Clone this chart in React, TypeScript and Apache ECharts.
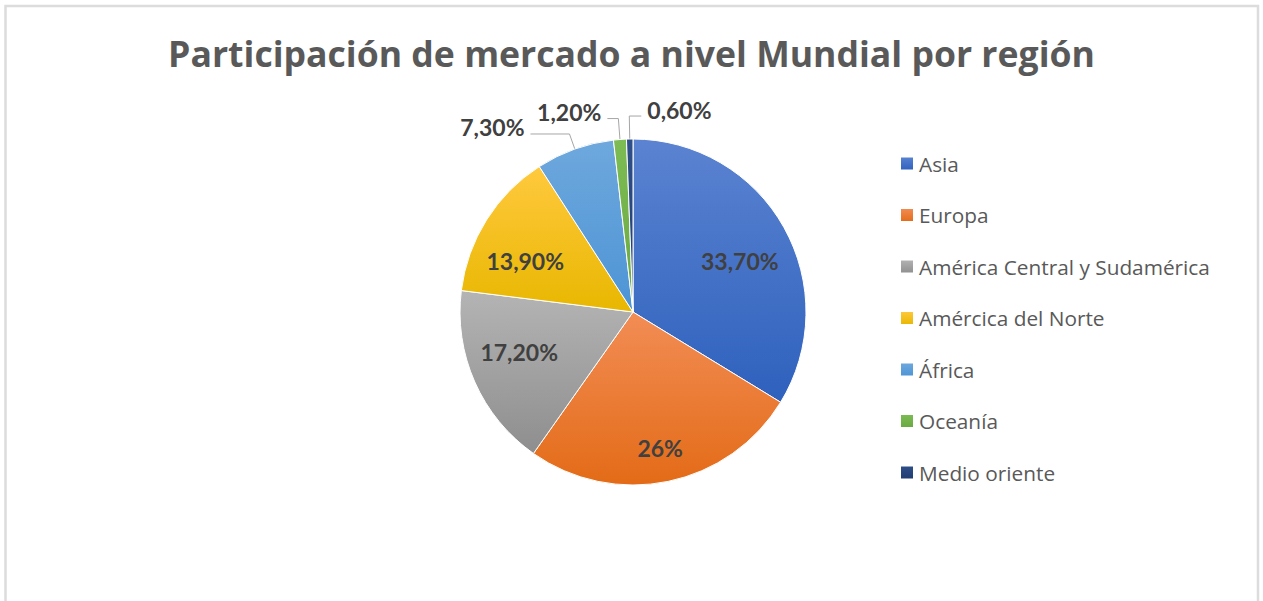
import React, { useEffect, useRef } from "react";
import * as echarts from "echarts";

const titleText = "Participación de mercado a nivel Mundial por región";
const categories = [
  "Asia",
  "Europa",
  "América Central y Sudamérica",
  "Amércica del Norte",
  "África",
  "Oceanía",
  "Medio oriente",
];
const values = [33.7, 26, 17.2, 13.9, 7.3, 1.2, 0.6];
const valueLabels = ["33,70%", "26%", "17,20%", "13,90%", "7,30%", "1,20%", "0,60%"];
const outside = [false, false, false, false, true, true, true];
const colorsTop = ["#5b83d1", "#f28d55", "#b4b4b4", "#ffc93e", "#6ea8dd", "#7dbb55", "#2f4f8a"];
const colorsBottom = ["#2e61bd", "#e36b17", "#8e8e8e", "#e8b700", "#4d94d5", "#6aa842", "#203c70"];
const lineLen = [0, 0, 0, 0, 16, 21, 23];
const lineLen2 = [0, 0, 0, 0, 39, 11, 12];
// small style nudges for inner labels (Excel's best-fit placement)
const nudgeX = [3, 3, -5, -7, 0, 0, 0];
const nudgeY = [7, 19, -8, 12, 0, 0, 0];

const FONT = "Lato, 'Liberation Sans', sans-serif";
const FONT2 = "'Open Sans', 'Noto Sans', sans-serif";

export default function App() {
  const ref = useRef<HTMLDivElement>(null);
  useEffect(() => {
    document.body.style.margin = "0";
    const chart = echarts.init(ref.current!, undefined, { renderer: "svg" });
    const grad = (i: number) =>
      new echarts.graphic.LinearGradient(0, 0, 0, 1, [
        { offset: 0, color: colorsTop[i] },
        { offset: 1, color: colorsBottom[i] },
      ]);
    const center = [633, 312];
    const R = 173;
    chart.setOption({
      animation: false,
      backgroundColor: "#ffffff",
      title: {
        text: titleText,
        left: "center",
        top: 30,
        textStyle: { fontFamily: FONT2, fontSize: 35.6, fontWeight: "bold", color: "#595959" },
      },
      legend: {
        orient: "vertical",
        left: 894,
        top: 148,
        itemWidth: 14,
        itemHeight: 14,
        itemGap: 30.5,
        icon: "rect",
        data: categories,
        textStyle: { fontFamily: FONT2, fontSize: 20.8, color: "#595959", lineHeight: 20 },
      },
      graphic: [
        {
          type: "rect",
          silent: true,
          shape: { x: 5.5, y: 6, width: 1252.5, height: 700 },
          style: { fill: "none", stroke: "#dcdcdc", lineWidth: 2.5 },
        },
      ],
      series: [
        {
          type: "pie",
          center,
          radius: [0, R],
          startAngle: 90,
          clockwise: true,
          avoidLabelOverlap: false,
          itemStyle: { borderColor: "#ffffff", borderWidth: 1 },
          emphasis: { disabled: true },
          label: { show: false },
          labelLine: { show: false },
          data: categories.map((name, i) => ({
            name,
            value: values[i],
            itemStyle: { color: grad(i) },
            label: outside[i]
              ? {
                  show: true,
                  position: "outside",
                  formatter: valueLabels[i],
                  color: "#404040",
                  fontFamily: FONT,
                  fontSize: 23,
                  fontWeight: "bold",
                }
              : { show: false },
            labelLine: outside[i]
              ? {
                  show: true,
                  length: lineLen[i],
                  length2: lineLen2[i],
                  smooth: false,
                  lineStyle: { color: "#a6a6a6", width: 1 },
                }
              : { show: false },
          })),
          labelLayout: (p: any) => {
            const i = p.dataIndex;
            if (!outside[i] || !p.labelLinePoints) return {};
            const pts = p.labelLinePoints.map((q: number[]) => [q[0], q[1]]);
            if (i === 6) {
              const p1 = pts[1];
              pts[2] = [p1[0] + lineLen2[i], p1[1]];
              return {
                x: pts[2][0] + 6,
                y: pts[2][1] - 6,
                align: "left",
                verticalAlign: "middle",
                labelLinePoints: pts,
              };
            }
            return {
              x: pts[2][0] - 6,
              y: pts[2][1] - 7,
              align: "right",
              verticalAlign: "middle",
              labelLinePoints: pts,
            };
          },
        },
        {
          type: "pie",
          center,
          radius: [59, R],
          startAngle: 90,
          clockwise: true,
          silent: true,
          avoidLabelOverlap: false,
          itemStyle: { color: "rgba(0,0,0,0)", borderWidth: 0 },
          emphasis: { disabled: true },
          label: {
            show: true,
            position: "inside",
            color: "#404040",
            fontFamily: FONT,
            fontSize: 23,
            fontWeight: "bold",
          },
          labelLine: { show: false },
          data: categories.map((name, i) => ({
            name,
            value: values[i],
            label: { show: !outside[i], formatter: valueLabels[i] },
          })),
          labelLayout: (p: any) => ({ dx: nudgeX[p.dataIndex], dy: nudgeY[p.dataIndex] }),
        },
      ],
    });
    return () => chart.dispose();
  }, []);
  return (
    <div
      ref={ref}
      style={{ position: "absolute", left: 0, top: 0, width: 1263, height: 601 }}
    />
  );
}
